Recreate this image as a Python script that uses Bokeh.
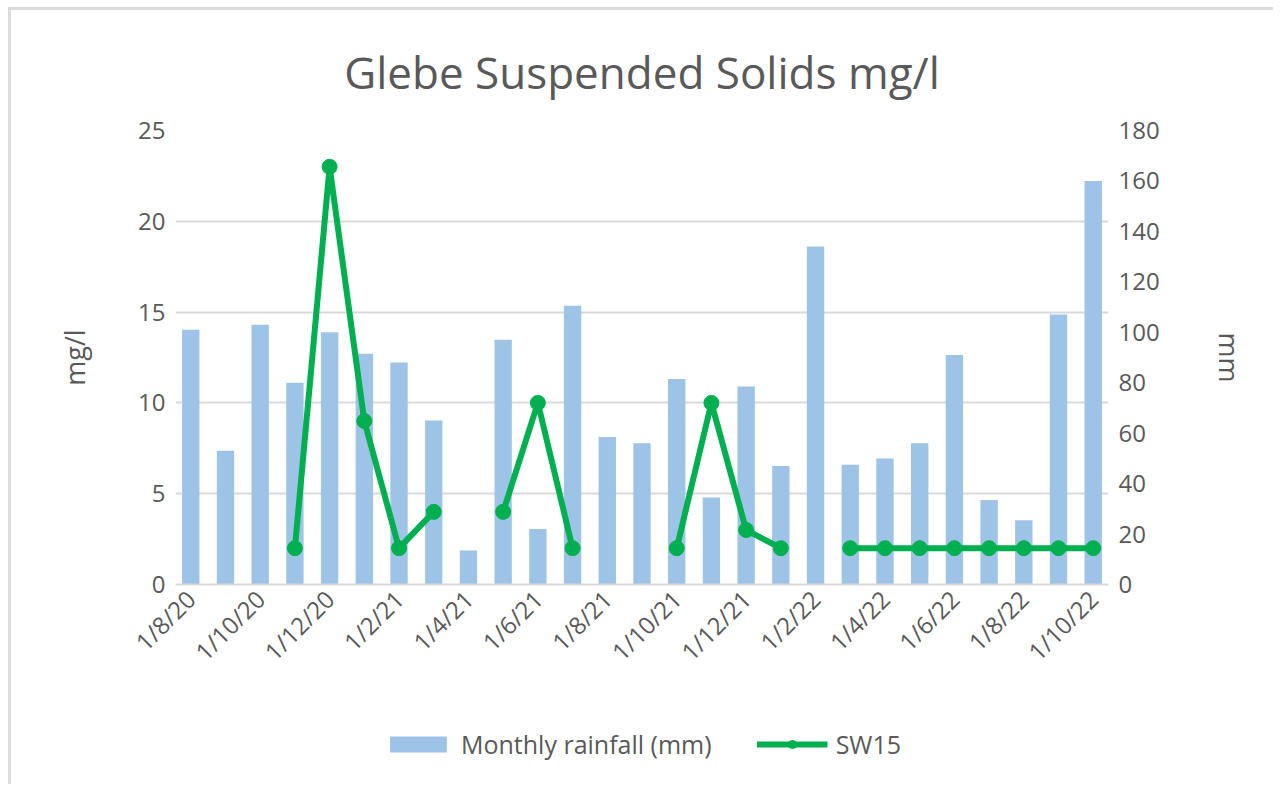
import math
from bokeh.plotting import figure
from bokeh.layouts import column
from bokeh.models import (Range1d, LinearAxis, FixedTicker, Legend, LegendItem,
                          ColumnDataSource)
from bokeh.embed import file_html
from bokeh.resources import INLINE

nan = float("nan")

months = ["1/8/20", "1/9/20", "1/10/20", "1/11/20", "1/12/20",
          "1/1/21", "1/2/21", "1/3/21", "1/4/21", "1/5/21", "1/6/21",
          "1/7/21", "1/8/21", "1/9/21", "1/10/21", "1/11/21", "1/12/21",
          "1/1/22", "1/2/22", "1/3/22", "1/4/22", "1/5/22", "1/6/22",
          "1/7/22", "1/8/22", "1/9/22", "1/10/22"]
rainfall_mm = [101, 53, 103, 80, 100, 91.5, 88, 65, 13.5, 97, 22, 110.5,
               58.5, 56, 81.5, 34.5, 78.5, 47, 134, 47.5, 50, 56, 91,
               33.5, 25.5, 107, 160]
sw15 = [nan, nan, nan, 2, 23, 9, 2, 4, nan, 4, 10, 2, nan, nan, 2, 10, 3,
        2, nan, 2, 2, 2, 2, 2, 2, 2, 2]
tick_labels = months[::2]
left_ticks = [0, 5, 10, 15, 20, 25]
right_ticks = [0, 20, 40, 60, 80, 100, 120, 140, 160, 180]

TXT = "#595959"
FONT = "Open Sans"
BAR_C = "#9DC3E6"
LINE_C = "#00B050"

idx = list(range(len(months)))
src = ColumnDataSource(dict(x=idx, rain=rainfall_mm, sw=sw15))

p = figure(frame_width=933, frame_height=454,
           min_border_left=164, min_border_right=165,
           min_border_top=120, min_border_bottom=120,
           x_range=Range1d(-0.44, 26.44), y_range=Range1d(0, 25),
           output_backend="svg", toolbar_location=None,
           background_fill_color="white", border_fill_color="white",
           outline_line_color=None)

p.title.text = "Glebe Suspended Solids mg/l"
p.title.align = "center"
p.title.text_font = FONT
p.title.text_font_size = "44px"
p.title.text_font_style = "normal"
p.title.text_color = TXT
p.title.standoff = 58

p.extra_y_ranges = {"mm": Range1d(0, 180)}

bars = p.vbar(x="x", top="rain", width=0.5, bottom=0, source=src,
              y_range_name="mm", color=BAR_C, line_color=None)
ln = p.line(x="x", y="sw", source=src, line_color=LINE_C, line_width=6)
sc = p.scatter(x="x", y="sw", source=src, size=15, color=LINE_C)

# left axis
ya = p.yaxis[0]
ya.ticker = FixedTicker(ticks=left_ticks)
ya.axis_line_color = None
ya.major_tick_line_color = None
ya.major_tick_out = 0
ya.minor_tick_line_color = None
ya.major_label_text_font = FONT
ya.major_label_text_font_size = "24px"
ya.major_label_text_color = TXT
ya.major_label_standoff = 10
ya.axis_label = "mg/l"
ya.axis_label_text_font = FONT
ya.axis_label_text_font_size = "27px"
ya.axis_label_text_font_style = "normal"
ya.axis_label_text_color = TXT
ya.axis_label_standoff = 42

# right axis
ra = LinearAxis(y_range_name="mm", ticker=FixedTicker(ticks=right_ticks))
ra.axis_line_color = None
ra.major_tick_line_color = None
ra.major_tick_out = 0
ra.minor_tick_line_color = None
ra.major_label_text_font = FONT
ra.major_label_text_font_size = "24px"
ra.major_label_text_color = TXT
ra.major_label_standoff = 10
ra.axis_label = "mm"
ra.axis_label_text_font = FONT
ra.axis_label_text_font_size = "27px"
ra.axis_label_text_font_style = "normal"
ra.axis_label_text_color = TXT
ra.axis_label_standoff = 48
p.add_layout(ra, "right")

# x axis
xa = p.xaxis[0]
xa.ticker = FixedTicker(ticks=idx[::2])
xa.major_label_overrides = {i: lab for i, lab in zip(idx[::2], tick_labels)}
xa.major_label_orientation = math.pi / 4
xa.axis_line_color = "#d9d9d9"
xa.axis_line_width = 2
xa.major_tick_line_color = None
xa.major_tick_out = 0
xa.minor_tick_line_color = None
xa.major_label_text_font = FONT
xa.major_label_text_font_size = "24px"
xa.major_label_text_color = TXT
xa.major_label_standoff = 10

p.xgrid.grid_line_color = None
p.ygrid.grid_line_color = "#d9d9d9"
p.ygrid.grid_line_width = 2

# legend strip (separate figure below the chart); its proxy glyphs lie
# outside the strip's visible range so only the legend shows
lg = figure(width=164 + 933 + 165, height=80, min_border=0,
            x_range=Range1d(0, 1), y_range=Range1d(0, 1),
            x_axis_type=None, y_axis_type=None,
            output_backend="svg", toolbar_location=None,
            background_fill_color="white", border_fill_color="white",
            outline_line_color=None)
lg.xgrid.visible = False
lg.ygrid.visible = False
proxy = ColumnDataSource(dict(x=[-10, -11], top=[-10, -10], y=[-10, -10]))
lbar = lg.vbar(x="x", top="top", width=0.5, source=proxy, color=BAR_C, line_color=None)
lline = lg.line(x="x", y="y", source=proxy, line_color=LINE_C, line_width=6)
lsc = lg.scatter(x="x", y="y", source=proxy, size=15, color=LINE_C)

legend = Legend(items=[LegendItem(label="Monthly rainfall (mm)", renderers=[lbar]),
                       LegendItem(label="SW15", renderers=[lline, lsc])],
                orientation="horizontal", location="center", margin=0,
                glyph_width=71, glyph_height=20, label_standoff=8, spacing=45,
                padding=5, border_line_color=None, background_fill_alpha=0,
                label_text_font=FONT, label_text_font_size="25px",
                label_text_color=TXT)
lg.add_layout(legend, "center")

layout = column(p, lg, spacing=0,
                styles={"margin-left": "8px", "margin-top": "7px",
                        "border-left": "3px solid #dcdcdc",
                        "border-top": "3px solid #dcdcdc"})

open("out.html", "w").write(file_html(layout, INLINE))
